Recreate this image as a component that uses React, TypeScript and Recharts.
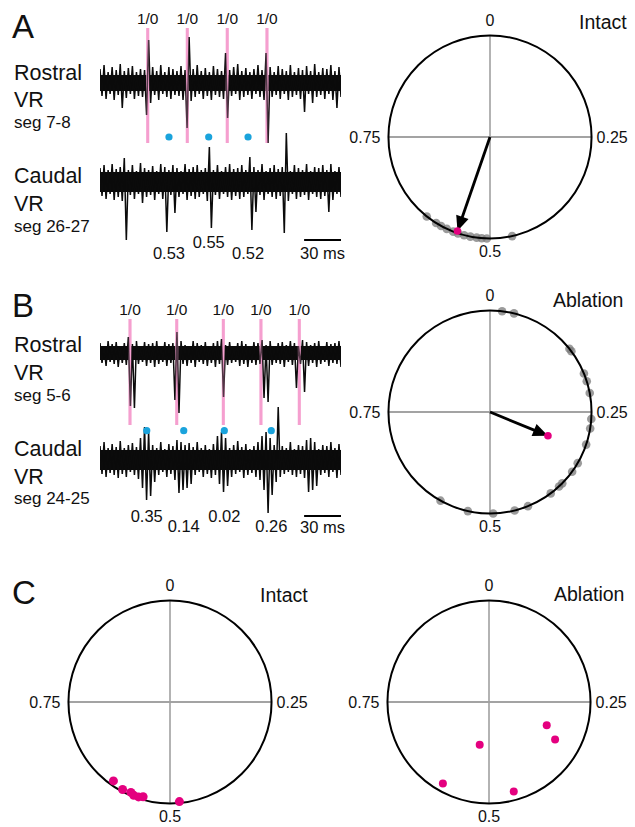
import React from 'react';
import { LineChart, Line, ScatterChart, Scatter, XAxis, YAxis, ReferenceLine, ReferenceDot, ReferenceArea } from 'recharts';

const FONT = '"Liberation Sans", Arial, Helvetica, sans-serif';
const PINK = '#f5a0cf';
const BLUE = '#1aa3dc';
const MAGENTA = '#e4007f';
const GRAY = '#7a7a7a';
const INK = '#111';

// ---- ventral root traces: envelope per ~3.3 ms bin (hi / lo), arbitrary units ----
const TRACE_MS = 196;

const rostralAHi = [14, 18, 11, 16, 13, 19, 12, 15, 17, 11, 14, 13, 43, 16, 12, 18, 11, 16, 14, 12, 17, 13, 46, 14, 18, 12, 15, 11, 17, 14, 12, 30, 13, 16, 19, 12, 15, 11, 14, 18, 13, 30, 16, 11, 17, 14, 12, 18, 11, 15, 13, 17, 12, 19, 11, 15, 14, 18, 12, 16];
const rostralALo = [-13, -16, -11, -17, -12, -25, -15, -11, -16, -13, -14, -32, -20, -12, -17, -11, -14, -16, -12, -13, -17, -45, -18, -14, -11, -16, -13, -17, -12, -14, -16, -35, -13, -11, -17, -14, -12, -16, -11, -14, -17, -60, -14, -12, -16, -11, -17, -14, -12, -16, -29, -11, -20, -14, -12, -16, -11, -17, -25, -14];
const rostralACore = [-8, 8];

const caudalAHi = [14, 17, 12, 18, 13, 15, 24, 12, 17, 11, 19, 14, 12, 16, 11, 18, 15, 12, 17, 14, 11, 18, 13, 15, 17, 12, 14, 35, 12, 17, 11, 15, 18, 13, 14, 17, 12, 25, 15, 12, 18, 11, 14, 17, 13, 15, 49, 11, 17, 14, 12, 18, 11, 15, 14, 17, 12, 18, 11, 15];
const caudalALo = [-14, -17, -12, -18, -15, -19, -58, -13, -17, -12, -21, -15, -13, -18, -12, -17, -50, -13, -31, -15, -12, -18, -14, -17, -15, -12, -19, -46, -13, -17, -12, -15, -18, -14, -17, -15, -12, -48, -30, -13, -18, -12, -15, -17, -14, -51, -19, -12, -17, -15, -13, -18, -12, -15, -17, -14, -30, -18, -12, -15];
const caudalACore = [-10, 10];

const rostralBHi = [10, 7, 12, 9, 11, 7, 10, 16, 9, 12, 7, 11, 9, 10, 12, 7, 11, 9, 10, 21, 12, 8, 7, 12, 10, 8, 11, 7, 10, 12, 14, 8, 11, 7, 10, 12, 9, 7, 11, 10, 13, 8, 12, 7, 10, 11, 8, 12, 10, 7, 13, 11, 8, 10, 12, 7, 11, 9, 10, 12];
const rostralBLo = [-10, -13, -9, -11, -14, -10, -12, -53, -55, -11, -9, -13, -10, -14, -11, -9, -13, -10, -47, -60, -11, -13, -10, -14, -9, -11, -13, -10, -14, -11, -44, -12, -10, -9, -13, -11, -14, -10, -12, -11, -45, -49, -12, -10, -11, -14, -9, -12, -35, -11, -39, -13, -10, -14, -11, -9, -13, -10, -11, -14];
const rostralBCore = [-7, 7];

const caudalBHi = [14, 18, 12, 16, 13, 19, 12, 15, 17, 13, 22, 33, 28, 15, 12, 18, 11, 16, 14, 20, 18, 15, 17, 13, 18, 12, 15, 11, 16, 24, 28, 22, 12, 15, 19, 13, 16, 11, 14, 18, 24, 28, 22, 15, 53, 14, 12, 18, 11, 15, 14, 20, 22, 18, 11, 15, 14, 18, 12, 16];
const caudalBLo = [-14, -17, -13, -15, -18, -14, -17, -12, -15, -19, -28, -40, -36, -22, -15, -12, -17, -14, -20, -33, -30, -28, -24, -15, -12, -17, -14, -18, -15, -24, -32, -26, -17, -14, -12, -18, -15, -13, -17, -20, -30, -53, -35, -22, -17, -14, -12, -15, -17, -14, -18, -32, -30, -26, -15, -13, -17, -12, -18, -15];
const caudalBCore = [-10, 10];

// rostral burst onsets (ms) and caudal burst times (ms) with their phases
const burstsA = [38.8, 71.0, 103.5, 135.8];
const caudalTimesA = [56.1, 88.4, 120.4];
const phaseLabelsA = ['0.53', '0.55', '0.52'];

const burstsB = [24.4, 62.4, 100.3, 130.9, 162.1];
const caudalTimesB = [38.0, 68.1, 101.1, 139.3];
const phaseLabelsB = ['0.35', '0.14', '0.02', '0.26'];

// ---- polar phase plots (phase in cycles, r = vector length) ----
const intactAPhases = [0.607, 0.589, 0.58, 0.57, 0.559, 0.551, 0.541, 0.531, 0.521, 0.513, 0.505, 0.465];
const intactAMean = { phase: 0.553, r: 0.98 };

const ablationBPhases = [0.019, 0.038, 0.143, 0.148, 0.188, 0.201, 0.22, 0.261, 0.276, 0.302, 0.334, 0.35, 0.374, 0.381, 0.398, 0.439, 0.461, 0.495, 0.535, 0.581];
const ablationBMean = { phase: 0.312, r: 0.617 };

const intactCPhases = [0.599, 0.579, 0.565, 0.559, 0.551, 0.544, 0.485];
const intactCR = [0.956, 0.98, 0.97, 0.986, 0.985, 0.97, 0.985];

const ablationCPhases = [0.311, 0.332, 0.534, 0.582, 0.457];
const ablationCR = [0.613, 0.748, 0.432, 0.922, 0.914];

function toXY(phase: number, r: number) {
  const a = 2 * Math.PI * phase;
  return { x: r * Math.sin(a), y: r * Math.cos(a) };
}

function buildTrace(hi: number[], lo: number[]) {
  const dt = TRACE_MS / (hi.length * 2 - 1);
  const rows: { t: number; v: number }[] = [];
  hi.forEach((h, i) => {
    rows.push({ t: 2 * i * dt, v: h });
    rows.push({ t: (2 * i + 1) * dt, v: lo[i] });
  });
  return rows;
}

const lbl = (value: string, position: any, fontSize: number, offset = 0) => ({
  value, position, offset, fontSize, fill: INK, fontFamily: FONT,
});

function Trace({ left, top, hi, lo, core, under, children }: any) {
  return (
    <div style={{ position: 'absolute', left, top }}>
      <LineChart width={266} height={160} data={buildTrace(hi, lo)} margin={{ top: 0, right: 25, bottom: 0, left: 0 }}>
        <XAxis type="number" dataKey="t" domain={[0, TRACE_MS]} hide allowDataOverflow />
        <YAxis type="number" domain={[-80, 80]} hide allowDataOverflow />
        {under}
        <ReferenceArea x1={0} x2={TRACE_MS} y1={core[0]} y2={core[1]} fill="#0b0b0b" fillOpacity={1} stroke="none" />
        <Line dataKey="v" stroke="#0b0b0b" strokeWidth={1.5} dot={false} isAnimationActive={false} />
        {children}
      </LineChart>
    </div>
  );
}

function pinkUnder(times: number[], y1: number, y2: number) {
  return times.map((t) => (
    <ReferenceLine
      key={'u' + t}
      segment={[{ x: t, y: y1 }, { x: t, y: y2 }]}
      stroke={PINK}
      strokeWidth={3}
      label={lbl('1/0', 'top', 15.5, 4)}
    />
  ));
}

function pinkOver(times: number[], y1: number, y2: number) {
  return times.map((t) => (
    <ReferenceLine
      key={'o' + t}
      segment={[{ x: t, y: y1 }, { x: t, y: y2 }]}
      stroke={PINK}
      strokeWidth={3}
      strokeOpacity={0.3}
    />
  ));
}

function caudalMarks(times: number[], labels: string[], dotY: number, yHigh: number, yLow: number, startHigh: boolean, barY: number, barLabelY: number) {
  const out: any[] = [];
  times.forEach((t, i) => {
    out.push(<ReferenceDot key={'b' + i} x={t} y={dotY} r={3.6} fill={BLUE} stroke="none" />);
    const high = (i % 2 === 0) === startHigh;
    out.push(
      <ReferenceDot key={'l' + i} x={t} y={high ? yHigh : yLow} r={0} fill="none" stroke="none" label={lbl(labels[i], 'center', 16.5)} />
    );
  });
  out.push(
    <ReferenceLine key="bar" segment={[{ x: TRACE_MS - 30, y: barY }, { x: TRACE_MS, y: barY }]} stroke="#000" strokeWidth={2} />
  );
  out.push(
    <ReferenceDot key="barl" x={TRACE_MS - 15} y={barLabelY} r={0} fill="none" stroke="none" label={lbl('30 ms', 'center', 16.5)} />
  );
  return out;
}

function Arrow(props: any) {
  const { x1, y1, x2, y2 } = props;
  const dx = x2 - x1;
  const dy = y2 - y1;
  const len = Math.hypot(dx, dy) || 1;
  const ux = dx / len;
  const uy = dy / len;
  const hl = 15;
  const hw = 6.5;
  const bx = x2 - ux * hl;
  const by = y2 - uy * hl;
  return (
    <g>
      <line x1={x1} y1={y1} x2={bx + ux * 2} y2={by + uy * 2} stroke="#000" strokeWidth={2.8} />
      <polygon points={`${x2},${y2} ${bx - uy * hw},${by + ux * hw} ${bx + uy * hw},${by - ux * hw}`} fill="#000" />
    </g>
  );
}

const R_PX = 264 / 2.6;

function PolarPlot({ left, top, gray, pts, mean, dotR }: any) {
  return (
    <div style={{ position: 'absolute', left, top }}>
      <ScatterChart width={300} height={280} margin={{ top: 8, right: 18, bottom: 8, left: 18 }}>
        <XAxis type="number" dataKey="x" domain={[-1.3, 1.3]} hide allowDataOverflow />
        <YAxis type="number" dataKey="y" domain={[-1.3, 1.3]} hide allowDataOverflow />
        <ReferenceLine segment={[{ x: -1, y: 0 }, { x: 1, y: 0 }]} stroke="#858585" strokeWidth={1.6} />
        <ReferenceLine segment={[{ x: 0, y: -1 }, { x: 0, y: 1 }]} stroke="#a0a0a0" strokeWidth={1.6} />
        <ReferenceDot x={0} y={1.147} r={0} fill="none" stroke="none" label={lbl('0', 'center', 16)} />
        <ReferenceDot x={0} y={-1.125} r={0} fill="none" stroke="none" label={lbl('0.5', 'center', 16)} />
        <ReferenceDot x={-1} y={0} r={0} fill="none" stroke="none" label={lbl('0.75', 'left', 16, 8)} />
        <ReferenceDot x={1} y={0} r={0} fill="none" stroke="none" label={lbl('0.25', 'right', 16, 5)} />
        {gray && (
          <Scatter
            data={gray.map((p: number) => toXY(p, 1))}
            isAnimationActive={false}
            shape={(p: any) => <circle cx={p.cx} cy={p.cy} r={4.3} fill={GRAY} fillOpacity={0.75} />}
          />
        )}
        <ReferenceDot x={0} y={0} r={R_PX} fill="none" stroke="#000" strokeWidth={2} />
        {mean && <ReferenceLine segment={[{ x: 0, y: 0 }, toXY(mean.phase, mean.r)]} shape={Arrow} />}
        <Scatter
          data={pts}
          isAnimationActive={false}
          shape={(p: any) => <circle cx={p.cx} cy={p.cy} r={dotR} fill={MAGENTA} />}
        />
      </ScatterChart>
    </div>
  );
}

export default function App() {
  const t = { fontFamily: FONT, fill: INK } as const;
  return (
    <div style={{ position: 'absolute', left: 0, top: 0, width: 635, height: 827, overflow: 'hidden', background: '#fff' }}>
      <svg width={635} height={827} style={{ position: 'absolute', left: 0, top: 0 }}>
        <text {...t} x={12} y={38} fontSize={33}>A</text>
        <text {...t} x={12} y={317} fontSize={33}>B</text>
        <text {...t} x={12} y={604} fontSize={33}>C</text>

        <text {...t} x={14} y={80} fontSize={21.5}>Rostral</text>
        <text {...t} x={14} y={106.5} fontSize={21.5}>VR</text>
        <text {...t} x={14} y={128} fontSize={17}>seg 7-8</text>
        <text {...t} x={14} y={183} fontSize={21.5}>Caudal</text>
        <text {...t} x={14} y={211} fontSize={21.5}>VR</text>
        <text {...t} x={14} y={232} fontSize={17}>seg 26-27</text>

        <text {...t} x={14} y={352} fontSize={21.5}>Rostral</text>
        <text {...t} x={14} y={379.5} fontSize={21.5}>VR</text>
        <text {...t} x={14} y={401} fontSize={17}>seg 5-6</text>
        <text {...t} x={14} y={456} fontSize={21.5}>Caudal</text>
        <text {...t} x={14} y={483.5} fontSize={21.5}>VR</text>
        <text {...t} x={14} y={503.5} fontSize={17}>seg 24-25</text>

        <text {...t} x={579} y={28.5} fontSize={19.5}>Intact</text>
        <text {...t} x={553} y={307} fontSize={19.5}>Ablation</text>
        <text {...t} x={260} y={602} fontSize={19.5}>Intact</text>
        <text {...t} x={554} y={601} fontSize={19.5}>Ablation</text>
      </svg>

      <Trace left={100} top={3} hi={rostralAHi} lo={rostralALo} core={rostralACore} under={pinkUnder(burstsA, 55, -60)}>
        {pinkOver(burstsA, 55, -60)}
      </Trace>
      <Trace left={100} top={102} hi={caudalAHi} lo={caudalALo} core={caudalACore}>
        {caudalMarks(caudalTimesA, phaseLabelsA, 45, -59.7, -71, false, -58, -71)}
      </Trace>
      <Trace left={100} top={273} hi={rostralBHi} lo={rostralBLo} core={rostralBCore} under={pinkUnder(burstsB, 34, -72)}>
        {pinkOver(burstsB, 34, -72)}
      </Trace>
      <Trace left={100} top={380} hi={caudalBHi} lo={caudalBLo} core={caudalBCore}>
        {caudalMarks(caudalTimesB, phaseLabelsB, 29.3, -56.5, -66.5, true, -56, -66.7)}
      </Trace>

      <PolarPlot left={340} top={-3.5} gray={intactAPhases} mean={intactAMean} dotR={3.8}
        pts={[toXY(intactAMean.phase, intactAMean.r)]} />
      <PolarPlot left={340} top={271.5} gray={ablationBPhases} mean={ablationBMean} dotR={3.8}
        pts={[toXY(ablationBMean.phase, ablationBMean.r)]} />
      <PolarPlot left={20} top={562} dotR={4.5}
        pts={intactCPhases.map((p, i) => toXY(p, intactCR[i]))} />
      <PolarPlot left={339} top={562} dotR={4}
        pts={ablationCPhases.map((p, i) => toXY(p, ablationCR[i]))} />
    </div>
  );
}
